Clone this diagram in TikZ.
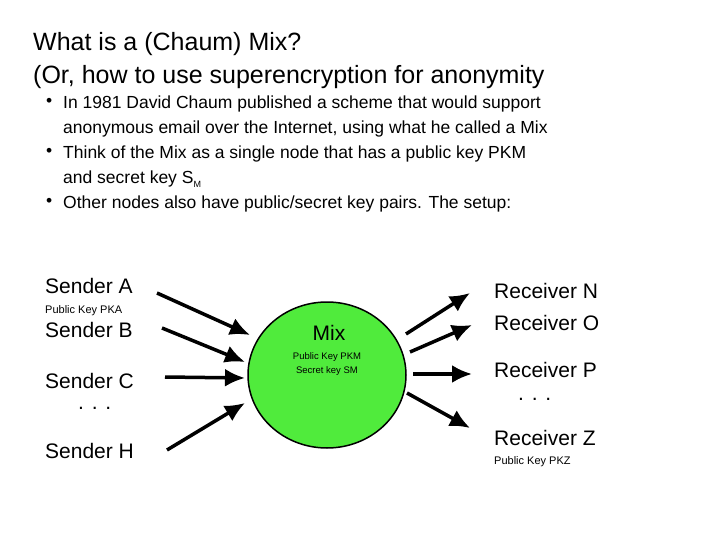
\documentclass[tikz,border=0pt]{standalone}
\usepackage{fontspec}
\setmainfont{Liberation Sans}
\usetikzlibrary{shapes.geometric,arrows.meta}
\begin{document}
\begin{tikzpicture}[x=1pt,y=-1pt,
  lbl/.style={anchor=west,inner sep=0pt,font=\fontsize{21}{24}\selectfont},
  small/.style={anchor=west,inner sep=0pt,font=\fontsize{11}{13}\selectfont},
  bul/.style={anchor=north west,inner sep=0pt,font=\fontsize{17.5}{24.5}\selectfont,align=left},
  arr/.style={-{Latex[length=20pt,width=18pt]},line width=3.5pt}]
\useasboundingbox (0,0) rectangle (720,540);
\node[anchor=west,inner sep=0pt,font=\fontsize{25}{33}\selectfont,align=left] (title) at (33,61) {What is a (Chaum) Mix?\\(Or, how to use superencryption for anonymity};
\node[bul] (b1) at (46,98) {•};
\node[bul] (t1) at (63,96) {In 1981 David Chaum published a scheme that would support\\anonymous email over the Internet, using what he called a Mix};
\node[bul] (b2) at (46,148) {•};
\node[bul] (t2) at (63,146) {Think of the Mix as a single node that has a public key PKM\\and secret key S\raisebox{-0.4ex}{\fontsize{9}{9}\selectfont M}};
\node[bul] (b3) at (46,198) {•};
\node[bul] (t3) at (63,196) {Other nodes also have public/secret key pairs. The setup:};
\node[lbl] (sa) at (45,286) {Sender A};
\node[small] (pka) at (45,311) {Public Key PKA};
\node[lbl] (sb) at (45,330) {Sender B};
\node[lbl] (sc) at (45,381) {Sender C};
\node[lbl] (dl) at (78,408) {. . .};
\node[lbl] (sh) at (45,451) {Sender H};
\node[draw,line width=1.5pt,fill={rgb,255:red,80;green,235;blue,60},ellipse,minimum width=158pt,minimum height=146pt,inner sep=0pt] (mix) at (327,375) {};
\node[font=\fontsize{21}{24}\selectfont,inner sep=0pt] (mt) at (329,333) {Mix};
\node[font=\fontsize{9.5}{14}\selectfont,align=center,inner sep=0pt] (mk) at (327,364) {Public Key PKM\\Secret key SM};
\node[lbl] (rn) at (494,291) {Receiver N};
\node[lbl] (ro) at (494,323) {Receiver O};
\node[lbl] (rp) at (494,370) {Receiver P};
\node[lbl] (dr) at (518,399) {. . .};
\node[lbl] (rz) at (494,438) {Receiver Z};
\node[small] (pkz) at (494,462) {Public Key PKZ};
\coordinate (a1) at (157,293); \coordinate (a2) at (250,335);
\coordinate (b1s) at (162,328); \coordinate (b2s) at (245,362);
\coordinate (c1) at (165,377); \coordinate (c2) at (245,378);
\coordinate (h1) at (167,450); \coordinate (h2) at (245,403);
\coordinate (n1) at (406,334); \coordinate (n2) at (470,293);
\coordinate (o1) at (410,352); \coordinate (o2) at (472,325);
\coordinate (p1) at (413,374); \coordinate (p2) at (472,374);
\coordinate (z1) at (407,393); \coordinate (z2) at (470,428);
\draw[arr] (a1) -- (a2);
\draw[arr] (b1s) -- (b2s);
\draw[arr] (c1) -- (c2);
\draw[arr] (h1) -- (h2);
\draw[arr] (n1) -- (n2);
\draw[arr] (o1) -- (o2);
\draw[arr] (p1) -- (p2);
\draw[arr] (z1) -- (z2);
\end{tikzpicture}
\end{document}
